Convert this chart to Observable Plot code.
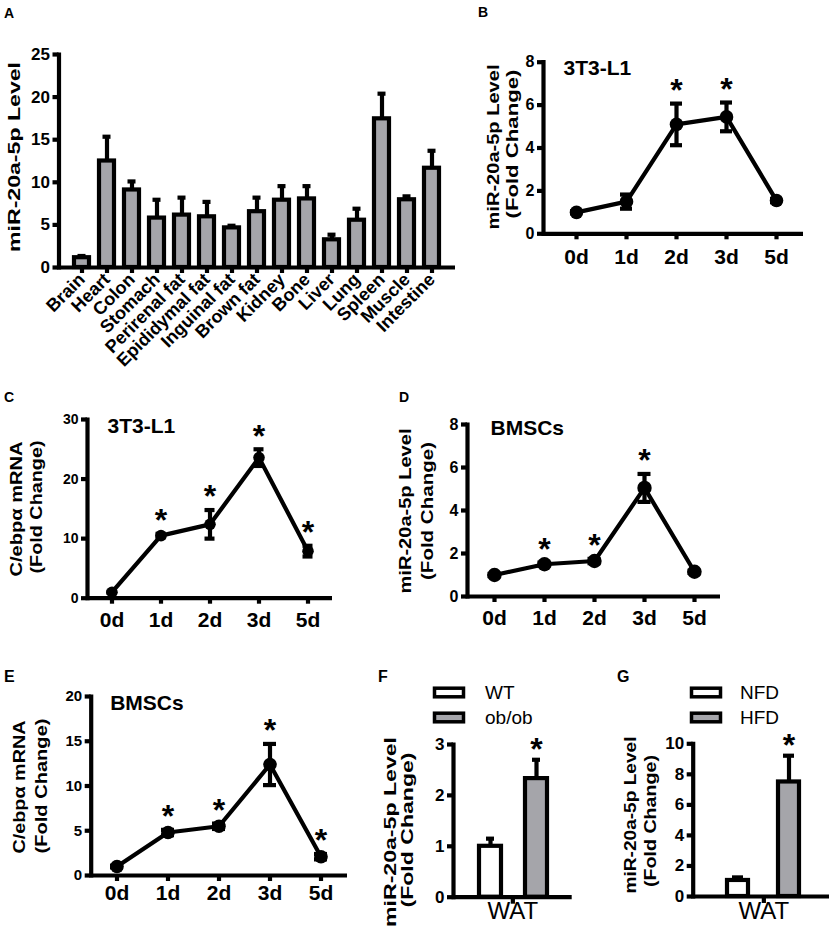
<!DOCTYPE html>
<html><head><meta charset="utf-8">
<script src="https://cdn.jsdelivr.net/npm/d3@7"></script>
<script src="https://cdn.jsdelivr.net/npm/@observablehq/plot@0.6"></script>
<style>
body{margin:0;background:#fff;}
#fig{position:relative;width:829px;height:929px;overflow:hidden;background:#fff;}
</style></head><body><div id="fig"></div>
<script>
// ---------- data ----------
const tissues = ["Brain","Heart","Colon","Stomach","Perirenal fat","Epididymal fat","Inguinal fat","Brown fat","Kidney","Bone","Liver","Lung","Spleen","Muscle","Intestine"];
const tissueMean = [1.15, 12.5, 9.1, 5.8, 6.15, 5.95, 4.65, 6.55, 7.9, 8.05, 3.25, 5.55, 17.45, 7.95, 11.65];
const tissueErr  = [0.2, 2.85, 1.0, 2.15, 2.05, 1.75, 0.25, 1.65, 1.65, 1.5, 0.6, 1.35, 2.95, 0.4, 2.05];

const days = ["0d","1d","2d","3d","5d"];
const b3t3Mean = [1.0, 1.5, 5.1, 5.45, 1.55];
const b3t3Err  = [0.05, 0.33, 0.97, 0.67, 0.08];
const b3t3Sig  = [false, false, true, true, false];

const c3t3Mean = [1.0, 10.5, 12.4, 23.6, 7.9];
const c3t3Err  = [0.1, 0.3, 2.4, 1.4, 0.9];
const c3t3Sig  = [false, true, true, true, true];

const dBmscMean = [1.0, 1.5, 1.65, 5.05, 1.15];
const dBmscErr  = [0.05, 0.08, 0.1, 0.65, 0.05];
const dBmscSig  = [false, true, true, true, false];

const eBmscMean = [1.0, 4.8, 5.5, 12.4, 2.1];
const eBmscErr  = [0.1, 0.3, 0.3, 2.3, 0.3];
const eBmscSig  = [false, true, true, true, true];

const fGroups = ["WT","ob/ob"];
const fMean = [1.0, 2.33];
const fErr  = [0.15, 0.37];
const fSig  = [false, true];

const gGroups = ["NFD","HFD"];
const gMean = [1.05, 7.5];
const gErr  = [0.2, 1.72];
const gSig  = [false, true];

const tissueLabel = "WAT";

// ---------- style ----------
const FONT = "Arial, 'Liberation Sans', Helvetica, sans-serif";
const GRAY = "#a5a5aa";
const SW = 4.2;
const fig = document.getElementById("fig");

function place(svg, left, top) {
  svg.style.position = "absolute";
  svg.style.left = left + "px";
  svg.style.top = top + "px";
  svg.style.maxWidth = "none";
  svg.style.background = "transparent";
  svg.style.overflow = "visible";
  fig.appendChild(svg);
}
const baseStyle = {background: "transparent", fontFamily: FONT, fontWeight: "bold", overflow: "visible", color: "black"};
const fmt = d => String(d);

// ---------- Panel A ----------
{
  const rows = tissues.map((t, i) => ({t, m: tissueMean[i], e: tissueErr[i]}));
  const svg = Plot.plot({
    width: 470, height: 370, marginLeft: 58.5, marginRight: 15, marginTop: 24, marginBottom: 133,
    style: baseStyle,
    x: {type: "band", domain: tissues, paddingInner: 0.39, paddingOuter: 0.4},
    y: {domain: [0, 25]},
    marks: [
      Plot.axisY({ticks: [0,5,10,15,20,25], tickFormat: fmt, tickSize: 6, tickPadding: 3, fontSize: 17, fontWeight: "bold", strokeWidth: SW, label: null}),
      Plot.axisX({tickSize: 6, tickPadding: 3, tickRotate: -45, fontSize: 18, fontWeight: "bold", strokeWidth: SW, label: null}),
      Plot.ruleX(rows, {x: "t", y1: "m", y2: d => d.m + d.e, strokeWidth: SW}),
      Plot.tickY(rows, {x: "t", y: d => d.m + d.e, strokeWidth: SW, insetLeft: 3.5, insetRight: 3.5}),
      Plot.barY(rows, {x: "t", y: "m", fill: GRAY, stroke: "black", strokeWidth: SW}),
      Plot.frame({anchor: "left", strokeWidth: SW}),
      Plot.ruleY([0], {strokeWidth: SW})
    ]
  });
  place(svg, 0, 30);
}

// ---------- line panels ----------
function linePanel(o) {
  const rows = days.map((d, i) => ({day: d, mean: o.mean[i], err: o.err[i], sig: o.sig[i]}));
  const svg = Plot.plot({
    width: o.w, height: o.h, marginLeft: o.ml, marginRight: o.mr, marginTop: o.mt, marginBottom: o.mb,
    style: baseStyle,
    x: {type: "band", domain: days, paddingInner: 0, paddingOuter: o.po, align: o.align},
    y: {domain: [0, o.yMax]},
    marks: [
      Plot.axisY({ticks: o.yTicks, tickFormat: fmt, tickSize: 6, tickPadding: 3, fontSize: o.yFont, fontWeight: "bold", strokeWidth: SW, label: null}),
      Plot.axisX({tickSize: 6, tickPadding: o.xPad, fontSize: 21, fontWeight: "bold", strokeWidth: SW, label: null}),
      Plot.frame({anchor: "left", strokeWidth: SW}),
      Plot.ruleY([0], {strokeWidth: SW}),
      Plot.ruleX(rows, {x: "day", y1: d => d.mean - d.err, y2: d => d.mean + d.err, strokeWidth: SW}),
      Plot.tickY(rows, {x: "day", y: d => d.mean + d.err, strokeWidth: SW, insetLeft: o.cap, insetRight: o.cap}),
      Plot.tickY(rows, {x: "day", y: d => d.mean - d.err, strokeWidth: SW, insetLeft: o.cap, insetRight: o.cap}),
      Plot.line(rows, {x: "day", y: "mean", strokeWidth: SW}),
      Plot.dot(rows, {x: "day", y: "mean", r: o.r, fill: "black"}),
      Plot.text(rows.filter(d => d.sig), {x: "day", y: d => d.mean + d.err, text: () => "*", dy: -13, fontSize: 32, fontWeight: "bold"}),
      Plot.text([o.label], {x: null, y: null, text: d => d, frameAnchor: "top-left", textAnchor: "start", lineAnchor: "top", dx: o.labDx, dy: o.labDy, fontSize: 21, fontWeight: "bold"})
    ]
  });
  place(svg, o.left, o.top);
}

linePanel({left: 510, top: 40, w: 319, h: 240, ml: 33, mr: 26, mt: 21.7, mb: 46.7,
  po: 0.087, align: 0.79, yMax: 8, yTicks: [0,2,4,6,8], yFont: 16, xPad: 9, cap: 19, r: 6.8,
  mean: b3t3Mean, err: b3t3Err, sig: b3t3Sig, label: "3T3-L1", labDx: 20, labDy: -2});

linePanel({left: 45, top: 395, w: 300, h: 245, ml: 42, mr: 13, mt: 24, mb: 42.3,
  po: 0, align: 0.5, yMax: 30, yTicks: [0,10,20,30], yFont: 14, xPad: 8, cap: 19.5, r: 5.8,
  mean: c3t3Mean, err: c3t3Err, sig: c3t3Sig, label: "3T3-L1", labDx: 20, labDy: -1});

linePanel({left: 437, top: 395, w: 300, h: 245, ml: 30, mr: 17, mt: 29, mb: 44,
  po: 0, align: 0.5, yMax: 8, yTicks: [0,2,4,6,8], yFont: 16, xPad: 8, cap: 18.5, r: 7.2,
  mean: dBmscMean, err: dBmscErr, sig: dBmscSig, label: "BMSCs", labDx: 23, labDy: -4});

linePanel({left: 50, top: 670, w: 310, h: 245, ml: 40.7, mr: 13, mt: 26, mb: 40,
  po: 0, align: 0.5, yMax: 20, yTicks: [0,5,10,15,20], yFont: 15, xPad: 4, cap: 19, r: 6.8,
  mean: eBmscMean, err: eBmscErr, sig: eBmscSig, label: "BMSCs", labDx: 19, labDy: -1});

// ---------- two-bar panels ----------
function pairPanel(o) {
  const rows = o.groups.map((g, i) => ({g, m: o.mean[i], e: o.err[i], sig: o.sig[i], fill: i === 0 ? "white" : GRAY}));
  const svg = Plot.plot({
    width: o.w, height: o.h, marginLeft: o.ml, marginRight: o.mr, marginTop: o.mt, marginBottom: o.mb,
    style: baseStyle,
    x: {type: "band", domain: o.groups, paddingInner: o.pi, paddingOuter: o.po, axis: null},
    y: {domain: [0, o.yMax]},
    marks: [
      Plot.axisY({ticks: o.yTicks, tickFormat: fmt, tickSize: 6, tickPadding: 3, fontSize: 17, fontWeight: "bold", strokeWidth: SW, label: null}),
      Plot.ruleX(rows, {x: "g", y1: "m", y2: d => d.m + d.e, strokeWidth: SW}),
      Plot.tickY(rows, {x: "g", y: d => d.m + d.e, strokeWidth: SW, insetLeft: o.cap, insetRight: o.cap}),
      Plot.barY(rows, {x: "g", y: "m", fill: "fill", stroke: "black", strokeWidth: SW}),
      Plot.text(rows.filter(d => d.sig), {x: "g", y: d => d.m + d.e, text: () => "*", dy: -10, fontSize: 32, fontWeight: "bold"}),
      Plot.frame({anchor: "left", strokeWidth: SW}),
      Plot.ruleY([0], {strokeWidth: SW}),
      Plot.ruleX([tissueLabel], {x: null, y1: 0, y2: 0, insetBottom: -7, strokeWidth: SW}),
      Plot.text([tissueLabel], {x: null, y: null, text: d => d, frameAnchor: "bottom", lineAnchor: "top", dy: 5, fontSize: 24, fontWeight: "normal"})
    ]
  });
  place(svg, o.left, o.top);
}

pairPanel({left: 425, top: 728, w: 160, h: 201, ml: 28, mr: 13.3, mt: 16, mb: 32.3,
  groups: fGroups, mean: fMean, err: fErr, sig: fSig, pi: 0.53, po: 0.53, yMax: 3, yTicks: [0,1,2,3], cap: 7});
pairPanel({left: 660, top: 728, w: 180, h: 201, ml: 32.7, mr: 6, mt: 15.3, mb: 33,
  groups: gGroups, mean: gMean, err: gErr, sig: gSig, pi: 0.59, po: 0.68, yMax: 10, yTicks: [0,2,4,6,8,10], cap: 5});

// ---------- overlay text: panel letters, axis titles, legends ----------
const ov = d3.select(fig).append("svg")
  .attr("width", 829).attr("height", 929)
  .style("position", "absolute").style("left", "0px").style("top", "0px")
  .style("pointer-events", "none").style("font-family", FONT);

[["A",4,18,14],["B",478,17,14],["C",4,402,14],["D",399,402,14],["E",4,682,16],["F",378,682,16],["G",617,682,16]]
  .forEach(([t,x,y,fs]) => ov.append("text").attr("x", x).attr("y", y).attr("font-size", fs).attr("font-weight", "bold").text(t));

function vlabel(text, cx, cy, len, fs = 17) {
  ov.append("text")
    .attr("transform", `translate(${cx},${cy}) rotate(-90)`)
    .attr("text-anchor", "middle").attr("dy", "0.35em")
    .attr("font-size", fs).attr("font-weight", "bold")
    .attr("textLength", len).attr("lengthAdjust", "spacingAndGlyphs")
    .text(text);
}
vlabel("miR-20a-5p Level", 14, 157, 190);
vlabel("miR-20a-5p Level", 493, 147, 165);
vlabel("(Fold Change)", 512, 144, 149);
vlabel("C/ebpα mRNA", 16, 509, 135);
vlabel("(Fold Change)", 36, 507, 133);
vlabel("miR-20a-5p Level", 405.5, 511, 165);
vlabel("(Fold Change)", 427, 511, 138);
vlabel("C/ebpα mRNA", 19.5, 787, 133);
vlabel("(Fold Change)", 41, 786, 135);
vlabel("miR-20a-5p Level", 390, 832, 190);
vlabel("(Fold Change)", 407, 830, 155);
vlabel("miR-20a-5p Level", 630.5, 815, 157);
vlabel("(Fold Change)", 650, 821, 132);

function legendItem(x, y, fill, text, tx) {
  ov.append("rect").attr("x", x).attr("y", y).attr("width", 29).attr("height", 8.6)
    .attr("fill", fill).attr("stroke", "black").attr("stroke-width", 3.5);
  ov.append("text").attr("x", tx).attr("y", y + 10.8).attr("font-size", 19).text(text);
}
legendItem(434.5, 688.2, "white", fGroups[0], 485);
legendItem(434.5, 713.2, GRAY, fGroups[1], 485);
legendItem(691.5, 688.2, "white", gGroups[0], 740);
legendItem(691.5, 713.2, GRAY, gGroups[1], 740);
</script></body></html>
